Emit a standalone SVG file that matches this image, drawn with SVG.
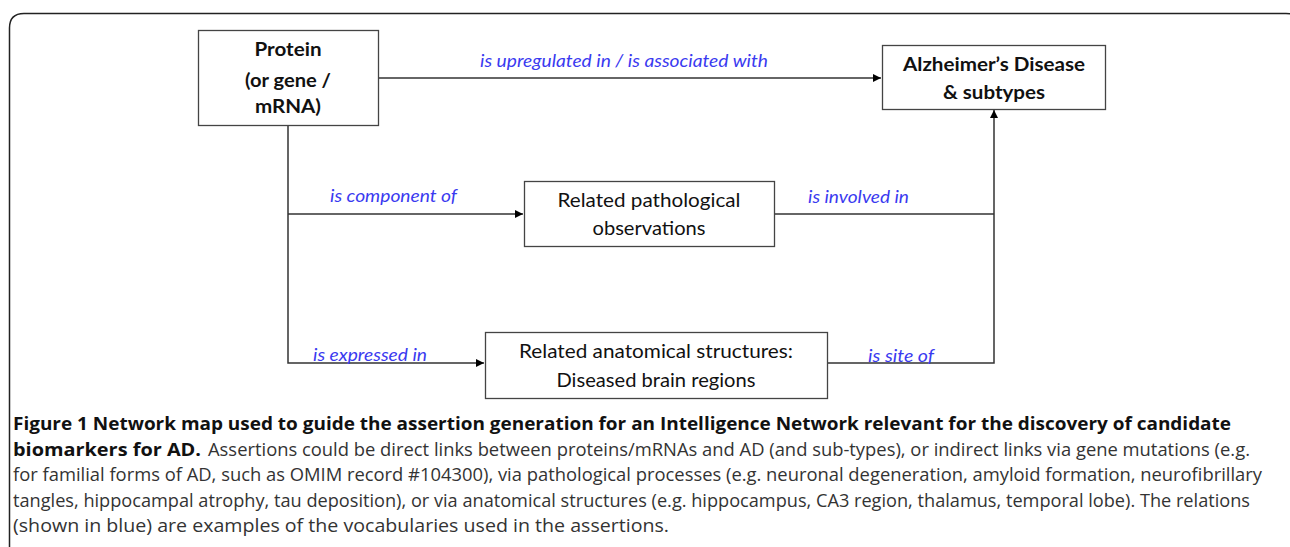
<svg xmlns="http://www.w3.org/2000/svg" width="1290" height="547" viewBox="0 0 1290 547">
<defs>
<marker id="ah" viewBox="0 0 10 10" refX="10" refY="5" markerWidth="8" markerHeight="8" markerUnits="userSpaceOnUse" orient="auto">
<path d="M0,0 L10,5 L0,10 Z" fill="#000"/>
</marker>
<style>
.box{fill:#fff;stroke:#444;stroke-width:1.3}
.conn{fill:none;stroke:#333;stroke-width:1.5}
.nt{font-family:"Lato","Open Sans","Liberation Sans",sans-serif;font-size:19px;fill:#111;text-anchor:middle}
.b{font-weight:bold}
.lbl{font-family:"Lato","Open Sans","Liberation Sans",sans-serif;font-size:17px;font-style:italic;fill:#3a3af0}
.cap{font-family:"Open Sans","Liberation Sans",sans-serif;font-size:18.5px;fill:#333}
.capb{font-family:"Open Sans","Liberation Sans",sans-serif;font-size:18.5px;font-weight:bold;fill:#111}
</style>
</defs>
<rect width="1290" height="547" fill="#fff"/>
<path d="M9.5,560 L9.5,28 Q9.5,13.5 24,13.5 L1286,13.5 Q1300,13.5 1300,28" fill="none" stroke="#222" stroke-width="1.5"/>

<g id="connectors">
<path class="conn" d="M378,78 L881,78" marker-end="url(#ah)"/>
<path class="conn" d="M288,125 L288,363 L484,363" marker-end="url(#ah)"/>
<path class="conn" d="M288,214 L523,214" marker-end="url(#ah)"/>
<path class="conn" d="M775,214 L994,214"/>
<path class="conn" d="M828,363 L994,363 L994,110" marker-end="url(#ah)"/>
<text class="lbl" x="480" y="67" textLength="288" lengthAdjust="spacingAndGlyphs">is upregulated in / is associated with</text>
<text class="lbl" x="330" y="202" textLength="127" lengthAdjust="spacingAndGlyphs">is component of</text>
<text class="lbl" x="808" y="203" textLength="101" lengthAdjust="spacingAndGlyphs">is involved in</text>
<text class="lbl" x="313" y="361" textLength="114" lengthAdjust="spacingAndGlyphs">is expressed in</text>
<text class="lbl" x="868" y="362" textLength="66" lengthAdjust="spacingAndGlyphs">is site of</text>
</g>

<g id="protein">
<rect class="box" x="198.5" y="30.5" width="180" height="95"/>
<text class="nt b" x="288" y="56" textLength="67" lengthAdjust="spacingAndGlyphs">Protein</text>
<text class="nt b" x="288" y="87" textLength="86" lengthAdjust="spacingAndGlyphs">(or gene /</text>
<text class="nt b" x="288" y="113" textLength="66" lengthAdjust="spacingAndGlyphs">mRNA)</text>
</g>

<g id="ad">
<rect class="box" x="882.5" y="45.5" width="223" height="64"/>
<text class="nt b" x="994" y="71" textLength="182" lengthAdjust="spacingAndGlyphs">Alzheimer’s Disease</text>
<text class="nt b" x="994" y="99" textLength="102" lengthAdjust="spacingAndGlyphs">&amp; subtypes</text>
</g>

<g id="pathological">
<rect class="box" x="524.5" y="181.5" width="250" height="65"/>
<text class="nt" x="649" y="207" textLength="183" lengthAdjust="spacingAndGlyphs">Related pathological</text>
<text class="nt" x="649" y="235" textLength="113" lengthAdjust="spacingAndGlyphs">observations</text>
</g>

<g id="anatomical">
<rect class="box" x="485.5" y="332.5" width="342" height="66"/>
<text class="nt" x="656" y="358" textLength="274" lengthAdjust="spacingAndGlyphs">Related anatomical structures:</text>
<text class="nt" x="656" y="387" textLength="199" lengthAdjust="spacingAndGlyphs">Diseased brain regions</text>
</g>

<g id="caption">
<text class="capb" x="13" y="430" textLength="1218" lengthAdjust="spacingAndGlyphs">Figure 1 Network map used to guide the assertion generation for an Intelligence Network relevant for the discovery of candidate</text>
<text class="capb" x="13" y="456" textLength="188" lengthAdjust="spacingAndGlyphs">biomarkers for AD.</text>
<text class="cap" x="208" y="456" textLength="1042" lengthAdjust="spacingAndGlyphs">Assertions could be direct links between proteins/mRNAs and AD (and sub-types), or indirect links via gene mutations (e.g.</text>
<text class="cap" x="13" y="481" textLength="1249" lengthAdjust="spacingAndGlyphs">for familial forms of AD, such as OMIM record #104300), via pathological processes (e.g. neuronal degeneration, amyloid formation, neurofibrillary</text>
<text class="cap" x="13" y="507" textLength="1237" lengthAdjust="spacingAndGlyphs">tangles, hippocampal atrophy, tau deposition), or via anatomical structures (e.g. hippocampus, CA3 region, thalamus, temporal lobe). The relations</text>
<text class="cap" x="13" y="532" textLength="656" lengthAdjust="spacingAndGlyphs">(shown in blue) are examples of the vocabularies used in the assertions.</text>
</g>
</svg>
